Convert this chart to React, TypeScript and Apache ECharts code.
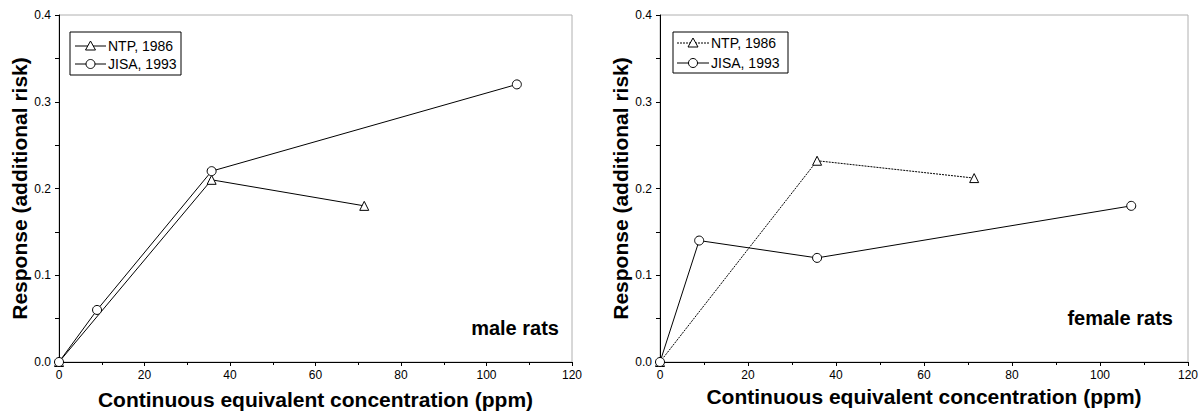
import React, { useEffect, useRef } from "react";
import * as echarts from "echarts";

// Data
const maleNtpX = [0, 35.7, 71.4];
const maleNtpY = [0, 0.21, 0.18];
const maleJisaX = [0, 8.9, 35.7, 107.1];
const maleJisaY = [0, 0.06, 0.22, 0.32];
const femaleNtpX = [0, 35.7, 71.4];
const femaleNtpY = [0, 0.232, 0.212];
const femaleJisaX = [0, 8.9, 35.7, 107.1];
const femaleJisaY = [0, 0.14, 0.12, 0.18];

const xTitle = "Continuous equivalent concentration (ppm)";
const yTitle = "Response (additional risk)";
const seriesNames = ["NTP, 1986", "JISA, 1993"];
const panelLabels = ["male rats", "female rats"];

const FONT = "Liberation Sans, Arial, sans-serif";

const zip = (xs: number[], ys: number[]) => xs.map((x, i) => [x, ys[i]]);

export default function App() {
  const ref = useRef<HTMLDivElement>(null);
  useEffect(() => {
    if (!ref.current) return;
    const chart = echarts.init(ref.current, undefined, { renderer: "svg" });
    const grids = [
      { left: 59, top: 15, width: 513, height: 347 },
      { left: 660, top: 15, width: 528, height: 347 },
    ];
    const xAxis = grids.map((_, i) => ({
      type: "value",
      gridIndex: i,
      min: 0,
      max: 120,
      interval: 20,
      name: xTitle,
      nameLocation: "middle",
      nameGap: i === 0 ? 27 : 22,
      nameTextStyle: { fontFamily: FONT, fontSize: 21, fontWeight: "bold", color: "#000" },
      axisLine: { show: true, lineStyle: { color: "#000", width: 1 } },
      axisTick: { show: true, length: 4, lineStyle: { color: "#000" } },
      minorTick: { show: true, splitNumber: 2, length: 3, lineStyle: { color: "#000" } },
      splitLine: { show: false },
      axisLabel: { fontFamily: FONT, fontSize: 12, color: "#000", margin: 7 },
    }));
    const yAxis = grids.map((_, i) => ({
      type: "value",
      gridIndex: i,
      min: 0,
      max: 0.4,
      interval: 0.1,
      name: yTitle,
      nameLocation: "middle",
      nameGap: 27,
      nameTextStyle: { fontFamily: FONT, fontSize: 21, fontWeight: "bold", color: "#000" },
      axisLine: { show: true, lineStyle: { color: "#000", width: 1 } },
      axisTick: { show: true, length: 4, lineStyle: { color: "#000" } },
      minorTick: { show: true, splitNumber: 2, length: 4, lineStyle: { color: "#000" } },
      splitLine: { show: false },
      axisLabel: {
        fontFamily: FONT,
        fontSize: 12,
        color: "#000",
        margin: 8,
        formatter: (v: number) => v.toFixed(1),
      },
    }));
    const mk = (name: string, idx: number, data: number[][], symbol: string, dotted: boolean) => ({
      type: "line",
      name,
      xAxisIndex: idx,
      yAxisIndex: idx,
      data,
      symbol,
      symbolSize: 9,
      showAllSymbol: true,
      lineStyle: { color: "#000", width: 1, type: dotted ? [2, 1] : "solid" },
      itemStyle: { color: "#fff", borderColor: "#000", borderWidth: 1 },
      z: 3,
    });

    const legend = (x: number, y: number, w: number, h: number, r1: number, r2: number, lx0: number, lx1: number, dotted: boolean) => {
      const mid = (lx0 + lx1) / 2;
      return [
        { type: "rect", shape: { x, y, width: w, height: h }, style: { fill: "#fff", stroke: "#000", lineWidth: 1 }, z: 10 },
        { type: "line", shape: { x1: lx0, y1: r1, x2: lx1, y2: r1 }, style: { stroke: "#000", lineWidth: 1, lineDash: dotted ? [2, 1] : null }, z: 11 },
        { type: "polygon", shape: { points: [[mid, r1 - 5], [mid - 5, r1 + 4], [mid + 5, r1 + 4]] }, style: { fill: "#fff", stroke: "#000", lineWidth: 1 }, z: 12 },
        { type: "text", x: lx1 + 2, y: r1, style: { text: seriesNames[0], fontFamily: FONT, fontSize: 14, fill: "#000", verticalAlign: "middle" }, z: 12 },
        { type: "line", shape: { x1: lx0, y1: r2, x2: lx1, y2: r2 }, style: { stroke: "#000", lineWidth: 1 }, z: 11 },
        { type: "circle", shape: { cx: mid, cy: r2, r: 4.5 }, style: { fill: "#fff", stroke: "#000", lineWidth: 1 }, z: 12 },
        { type: "text", x: lx1 + 2, y: r2, style: { text: seriesNames[1], fontFamily: FONT, fontSize: 14, fill: "#000", verticalAlign: "middle" }, z: 12 },
      ];
    };

    chart.setOption({
      animation: false,
      backgroundColor: "#fff",
      grid: grids.map((g) => ({
        ...g,
        show: true,
        borderColor: "#b0b0b0",
        borderWidth: 1,
        backgroundColor: "transparent",
        containLabel: false,
        outerBoundsMode: "none",
      })),
      xAxis,
      yAxis,
      series: [
        mk(seriesNames[0], 0, zip(maleNtpX, maleNtpY), "triangle", false),
        mk(seriesNames[1], 0, zip(maleJisaX, maleJisaY), "circle", false),
        mk(seriesNames[0], 1, zip(femaleNtpX, femaleNtpY), "triangle", true),
        mk(seriesNames[1], 1, zip(femaleJisaX, femaleJisaY), "circle", false),
      ],
      graphic: [
        ...legend(70, 32, 111, 43, 46, 64, 75, 106, false),
        ...legend(673, 32, 115, 41, 43, 63, 677, 709, true),
        { type: "text", x: 559, y: 328, style: { text: panelLabels[0], fontFamily: FONT, fontSize: 20, fontWeight: "bold", fill: "#000", align: "right", verticalAlign: "middle" } },
        { type: "text", x: 1173, y: 318, style: { text: panelLabels[1], fontFamily: FONT, fontSize: 20, fontWeight: "bold", fill: "#000", align: "right", verticalAlign: "middle" } },
      ],
    });
    return () => chart.dispose();
  }, []);
  return <div ref={ref} style={{ position: "fixed", left: 0, top: 0, width: 1201, height: 414, background: "#fff" }} />;
}
